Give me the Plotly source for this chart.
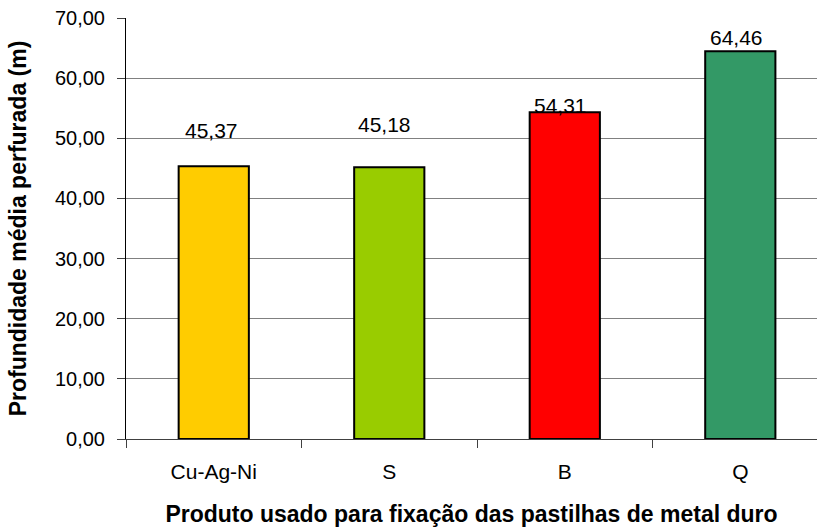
import plotly.graph_objects as go

categories = ["Cu-Ag-Ni", "S", "B", "Q"]
values = [45.37, 45.18, 54.31, 64.46]
value_labels = ["45,37", "45,18", "54,31", "64,46"]
bar_colors = ["#FFCC00", "#99CC00", "#FF0000", "#339966"]
label_shift = [36, 43, 7, 14]
label_xshift = [-2, -5, -4, -4]
y_ticks = [0, 10, 20, 30, 40, 50, 60, 70]

font_family = "Liberation Sans, Arial, sans-serif"

fig = go.Figure()
fig.add_trace(go.Bar(
    x=categories, y=values,
    marker=dict(color=bar_colors, line=dict(color="#000000", width=2)),
    width=0.4,
    hoverinfo="skip",
))

for c, v, t, s, xs in zip(categories, values, value_labels, label_shift, label_xshift):
    fig.add_annotation(x=c, y=v, text=t, showarrow=False, yanchor="middle",
                       yshift=s, xshift=xs,
                       font=dict(family=font_family, size=21, color="#000000"))

fig.update_layout(
    width=817, height=527,
    margin=dict(l=126, r=0, t=18, b=88),
    paper_bgcolor="white", plot_bgcolor="white",
    showlegend=False,
    separators=",.",
    font=dict(family=font_family, size=20, color="#000000"),
)
fig.update_xaxes(
    type="category",
    range=[-0.5, 3.437],
    showline=True, linecolor="#404040", linewidth=1,
    ticks="outside", tickson="boundaries", ticklen=8, tickcolor="#404040",
    ticklabelstandoff=14,
    tickfont=dict(size=21),
    showgrid=False,
    title=dict(text="<b>Produto usado para fixação das pastilhas de metal duro</b>",
               font=dict(size=23), standoff=24),
)
fig.update_yaxes(
    range=[0, 70],
    tickvals=y_ticks, tickformat=".2f",
    showline=True, linecolor="#000000", linewidth=1,
    ticks="outside", ticklen=8, tickcolor="#404040",
    ticklabelstandoff=8,
    tickfont=dict(size=20),
    showgrid=True, gridcolor="#808080", gridwidth=1,
    zeroline=False,
    title=dict(text="<b>Profundidade média perfurada (m)</b>", font=dict(size=23), standoff=21),
)

fig.write_html("out.html")
